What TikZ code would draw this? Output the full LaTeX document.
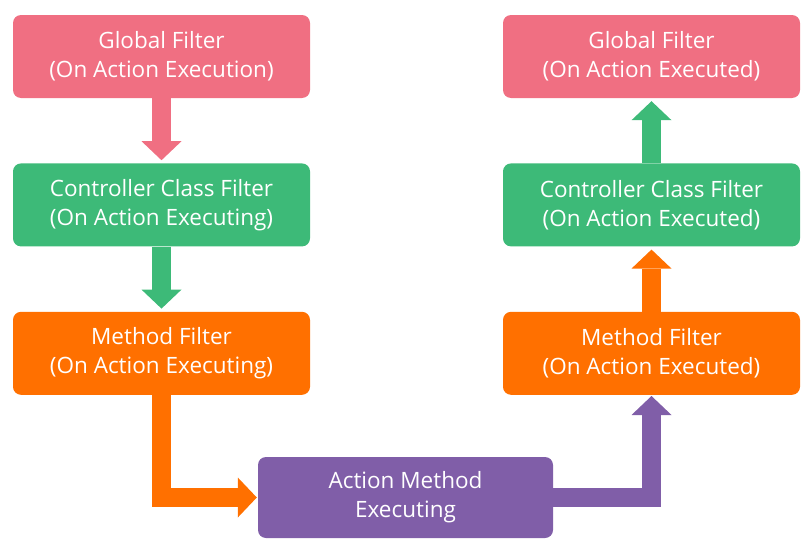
\documentclass[tikz,border=0pt]{standalone}
\usepackage{fontspec}
\setmainfont{Open Sans}
\usepackage{xcolor}
\usetikzlibrary{arrows.meta, positioning}
\definecolor{globalpink}{RGB}{240,111,130}
\definecolor{classgreen}{RGB}{61,186,120}
\definecolor{methodorange}{RGB}{255,112,0}
\definecolor{actionpurple}{RGB}{128,94,168}
\tikzstyle{filter}=[rounded corners=8pt,minimum width=297pt,minimum height=83pt,align=center,text=white,inner sep=0pt,font=\fontsize{22.5}{29}\selectfont]
\tikzstyle{flow}=[line width=19pt,-{Triangle[width=40pt 0,length=19pt 0,line width=0pt]}]

\begin{document}
\begin{tikzpicture}[x=1pt,y=-1pt,node distance=65pt]
    \useasboundingbox (0,0) rectangle (812,554);

    % before the action
    \node[filter, fill=globalpink] (g0) at (161.5,56.5) {Global Filter\\(On Action Execution)};
    \node[filter, fill=classgreen, below=of g0] (c0) {Controller Class Filter\\(On Action Executing)};
    \node[filter, fill=methodorange, below=of c0] (m0) {Method Filter\\(On Action Executing)};

    % the action itself
    \node[filter, fill=actionpurple, minimum width=295pt, minimum height=81pt] (act) at (405.5,497.5) {Action Method\\Executing};

    % after the action
    \node[filter, fill=globalpink] (g1) at (651.5,56.5) {Global Filter\\(On Action Executed)};
    \node[filter, fill=classgreen, below=of g1] (c1) {Controller Class Filter\\(On Action Executed)};
    \node[filter, fill=methodorange, below=of c1] (m1) {Method Filter\\(On Action Executed)};

    \draw[flow, globalpink, shorten >=3pt] (g0) -- (c0);
    \draw[flow, classgreen, shorten >=3pt] (c0) -- (m0);
    \draw[flow, methodorange, shorten >=1pt] (m0.south) |- (act.west);
    \draw[flow, actionpurple, shorten >=1pt] (act.east) -| (m1.south);
    \draw[flow, methodorange, shorten >=3pt] (m1) -- (c1);
    \draw[flow, classgreen, shorten >=3pt] (c1) -- (g1);
\end{tikzpicture}
\end{document}
